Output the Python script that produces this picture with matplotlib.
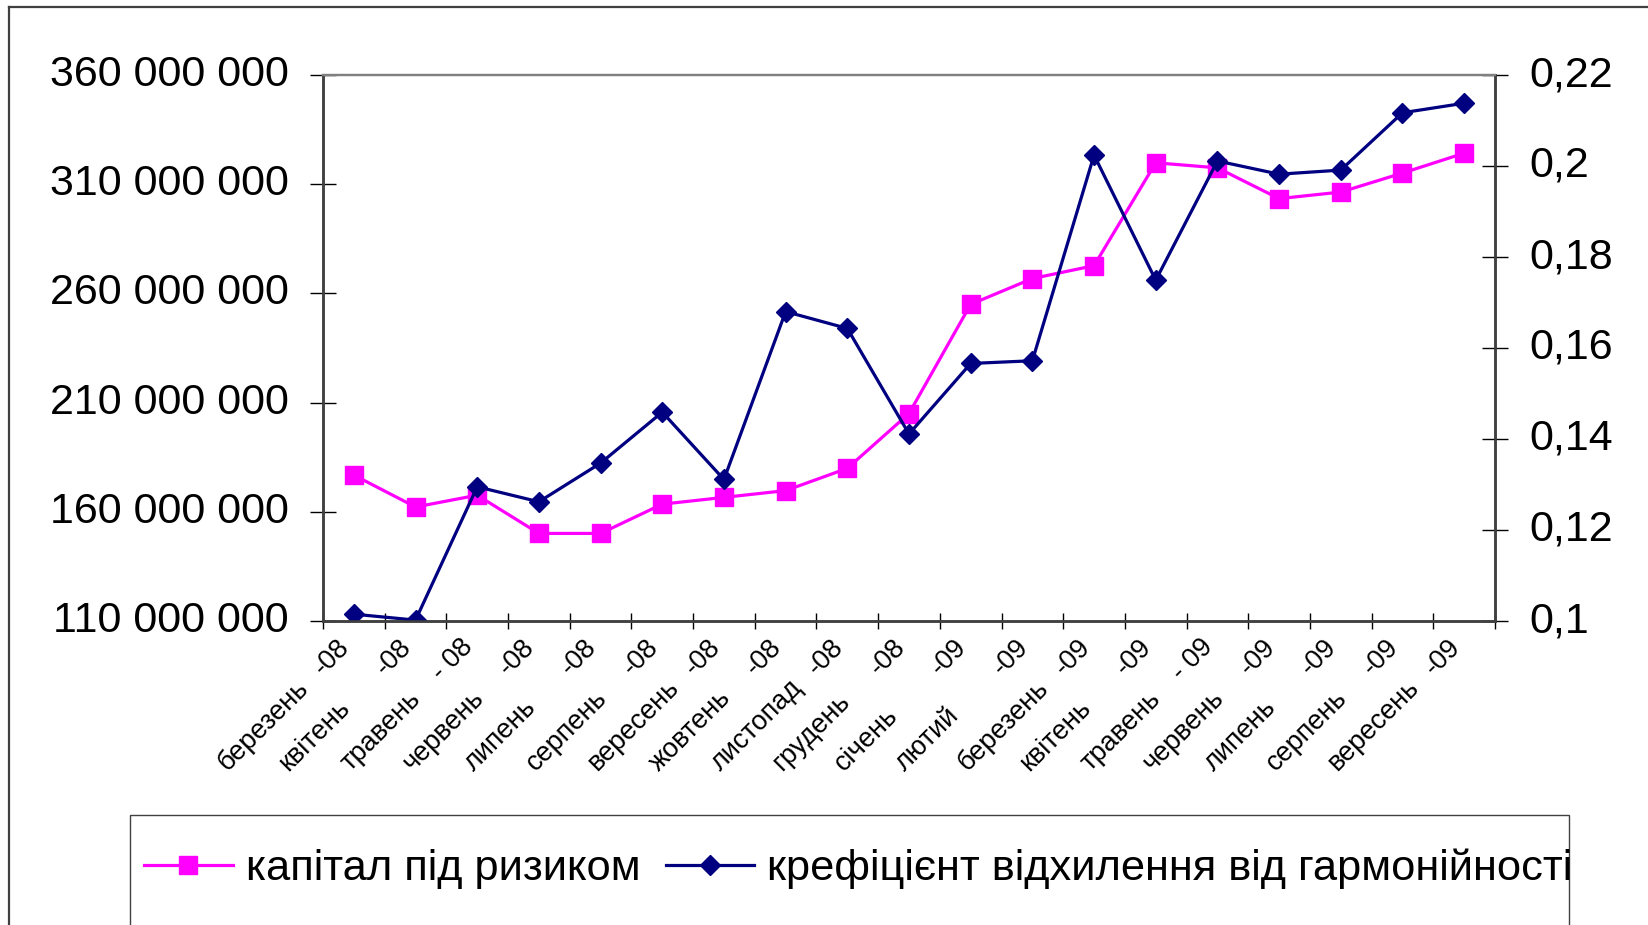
#!/usr/bin/env python3
import matplotlib
matplotlib.use('Agg')
import matplotlib.pyplot as plt
from matplotlib.lines import Line2D
from matplotlib.patches import Rectangle
from matplotlib.transforms import blended_transform_factory, ScaledTranslation
from matplotlib.ticker import FuncFormatter, FixedLocator

plt.rcParams['font.family'] = ['Liberation Sans', 'DejaVu Sans']

# Дані з графіка
months = ['березень', 'квітень', 'травень', 'червень', 'липень', 'серпень',
          'вересень', 'жовтень', 'листопад', 'грудень', 'січень', 'лютий',
          'березень', 'квітень', 'травень', 'червень', 'липень', 'серпень',
          'вересень']
years = ['-08', '-08', '- 08', '-08', '-08', '-08', '-08', '-08', '-08', '-08',
         '-09', '-09', '-09', '-09', '- 09', '-09', '-09', '-09', '-09']
capital = [176.8e6, 162.2e6, 167.6e6, 150.1e6, 150.1e6, 163.5e6, 166.6e6,
           169.7e6, 179.9e6, 205.0e6, 255.0e6, 266.8e6, 272.7e6, 319.8e6,
           317.5e6, 303.4e6, 306.4e6, 315.1e6, 324.2e6]
coef = [0.1015, 0.1002, 0.1295, 0.1262, 0.1347, 0.1459, 0.1311, 0.1680,
        0.1643, 0.1411, 0.1566, 0.1572, 0.2024, 0.1749, 0.2011, 0.1982,
        0.1991, 0.2117, 0.2138]
left_ticks = [110e6, 160e6, 210e6, 260e6, 310e6, 360e6]
right_ticks = [0.10, 0.12, 0.14, 0.16, 0.18, 0.20, 0.22]

W, H, DPI = 1649, 925, 100
fig = plt.figure(figsize=(W / DPI, H / DPI), dpi=DPI)
ax = fig.add_axes([323 / W, 1 - 621 / H, (1495 - 323) / W, (621 - 75) / H])
ax2 = ax.twinx()

x = list(range(len(months)))
pink = '#FF00FF'
navy = '#000080'
l1, = ax.plot(x, capital, color=pink, lw=2.3, marker='s', ms=13.5,
              mec=pink, mew=1, label='капітал під ризиком')
l2, = ax2.plot(x, coef, color=navy, lw=2.3, marker='D', ms=10.5,
               mec=navy, mew=1, label='крефіцієнт відхилення від гармонійності')

ax.set_xlim(-0.5, len(months) - 0.5)
ax.set_ylim(110e6, 360e6)
ax2.set_ylim(0.1, 0.22)
ax.set_yticks(left_ticks)
ax2.set_yticks(right_ticks)
ax.yaxis.set_major_formatter(FuncFormatter(lambda v, p: f'{int(round(v)):,}'.replace(',', ' ')))
ax2.yaxis.set_major_formatter(FuncFormatter(
    lambda v, p: f'{v:.2f}'.rstrip('0').replace('.', ',')))

# засічки між категоріями
ax.xaxis.set_major_locator(FixedLocator([i - 0.5 for i in range(len(months) + 1)]))
ax.set_xticklabels([])
ax.tick_params(axis='x', direction='inout', length=11, width=1, color='black')
ax.tick_params(axis='y', direction='inout', length=19, width=1, color='black',
               labelsize=31, pad=15)
ax2.tick_params(axis='y', direction='inout', length=19, width=1, color='black',
                labelsize=31, pad=15)
for lbl in ax.get_yticklabels() + ax2.get_yticklabels():
    lbl.set_va('center')

for a in (ax, ax2):
    a.spines['top'].set_color('#808080')
    a.spines['top'].set_linewidth(1.6)
    for s in ('left', 'right', 'bottom'):
        a.spines[s].set_color('#404040')
        a.spines[s].set_linewidth(1.8)

# підписи категорій: назва місяця та рік
trans = blended_transform_factory(ax.transData, ax.transAxes)
for i, (m, yr) in enumerate(zip(months, years)):
    t_m = trans + ScaledTranslation(-127 / DPI, -151 / DPI, fig.dpi_scale_trans)
    ax.text(i, 0, m, transform=t_m, rotation=45, rotation_mode='anchor',
            ha='left', va='baseline', fontsize=19.5, clip_on=False)
    t_y = trans + ScaledTranslation(-3 / DPI, -27 / DPI, fig.dpi_scale_trans)
    ax.text(i, 0, yr, transform=t_y, rotation=45, rotation_mode='anchor',
            ha='right', va='baseline', fontsize=19.5, clip_on=False)

# рамка діаграми
fig.add_artist(Line2D([9 / W, 9 / W], [-0.1, 1 - 7 / H], transform=fig.transFigure,
                      color='#404040', lw=1.6))
fig.add_artist(Line2D([9 / W, 1.1], [1 - 7 / H, 1 - 7 / H], transform=fig.transFigure,
                      color='#404040', lw=1.6))

# легенда
fig.add_artist(Rectangle((130 / W, -0.2), (1569 - 130) / W, 0.2 + 1 - 815 / H,
                         transform=fig.transFigure, fill=False,
                         edgecolor='#404040', lw=1))
fig.legend(handles=[l1, l2], loc='center left',
           bbox_to_anchor=(144 / W, 1 - 869 / H), ncol=2, frameon=False,
           fontsize=31.2, borderpad=0, borderaxespad=0, handlelength=2.05,
           handletextpad=0.30, columnspacing=0.58, numpoints=1)

fig.savefig('out.png', dpi=DPI)
